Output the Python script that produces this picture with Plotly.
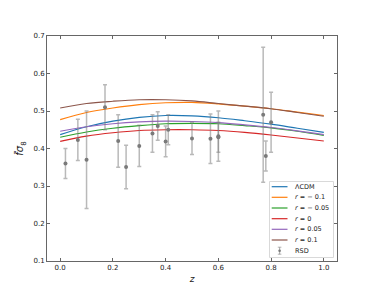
import plotly.graph_objects as go

# ---------------- data ----------------
z_model = [0.0, 0.1, 0.2, 0.3, 0.4, 0.5, 0.6, 0.7, 0.8, 0.9, 1.0]
lcdm    = [0.437, 0.458, 0.473, 0.483, 0.488, 0.487, 0.482, 0.474, 0.465, 0.454, 0.443]
r_m010  = [0.477, 0.496, 0.508, 0.517, 0.522, 0.523, 0.519, 0.513, 0.506, 0.497, 0.488]
r_m005  = [0.430, 0.444, 0.454, 0.461, 0.466, 0.467, 0.466, 0.461, 0.455, 0.446, 0.435]
r_000   = [0.419, 0.433, 0.442, 0.448, 0.450, 0.450, 0.448, 0.443, 0.436, 0.428, 0.420]
r_p005  = [0.446, 0.458, 0.466, 0.471, 0.473, 0.472, 0.469, 0.463, 0.456, 0.447, 0.437]
r_p010  = [0.508, 0.520, 0.526, 0.530, 0.530, 0.527, 0.520, 0.513, 0.506, 0.496, 0.486]

z_obs   = [0.02, 0.067, 0.10, 0.17, 0.22, 0.25, 0.30, 0.35, 0.37, 0.40, 0.41,
           0.50, 0.57, 0.60, 0.60, 0.77, 0.78, 0.80]
fs8_obs = [0.36, 0.423, 0.37, 0.51, 0.42, 0.351, 0.407, 0.44, 0.460, 0.419, 0.45,
           0.427, 0.426, 0.43, 0.433, 0.49, 0.38, 0.47]
err_obs = [0.04, 0.055, 0.13, 0.06, 0.07, 0.058, 0.055, 0.05, 0.038, 0.041, 0.04,
           0.043, 0.066, 0.04, 0.067, 0.18, 0.04, 0.08]

series_names = ["ΛCDM", "<i>r</i> = − 0.1", "<i>r</i> = − 0.05", "<i>r</i> = 0",
                "<i>r</i> = 0.05", "<i>r</i> = 0.1"]
series_vals = [lcdm, r_m010, r_m005, r_000, r_p005, r_p010]
colors = ["#1f77b4", "#ff7f0e", "#2ca02c", "#d62728", "#9467bd", "#8c564b"]

x_ticks = [0.0, 0.2, 0.4, 0.6, 0.8, 1.0]
y_ticks = [0.1, 0.2, 0.3, 0.4, 0.5, 0.6, 0.7]

# ---------------- layout geometry ----------------
OFF = 8                      # page body margin of the html page
W, H = 374 - OFF, 299 - OFF
ML, MR, MT, MB = 39, 37, 28, 38
PW, PH = W - ML - MR, H - MT - MB
FONT = "DejaVu Sans"


def px_x(x):
    return (x - OFF - ML) / PW


def px_y(y):
    return (H - MB - (y - OFF)) / PH


fig = go.Figure()
for name, vals, c in zip(series_names, series_vals, colors):
    fig.add_trace(go.Scatter(x=z_model, y=vals, mode="lines", name=name,
                             line=dict(color=c, width=1.2, shape="spline"),
                             showlegend=False))

fig.add_trace(go.Scatter(
    x=z_obs, y=fs8_obs, mode="markers", name="RSD",
    marker=dict(color="#7a7a7a", size=4),
    error_y=dict(type="data", array=err_obs, color="rgba(128,128,128,0.55)",
                 thickness=1.5, width=2),
    showlegend=False))

# ---------------- custom compact legend ----------------
shapes = []
annotations = []
box_l, box_r, box_t, box_b = 269.5, 333.5, 181.5, 257.5
shapes.append(dict(type="rect", xref="paper", yref="paper",
                   x0=px_x(box_l), x1=px_x(box_r), y0=px_y(box_b), y1=px_y(box_t),
                   line=dict(color="#d9d9d9", width=1), fillcolor="rgba(255,255,255,0.8)",
                   layer="above"))
row_y = [186.7, 197.3, 208.0, 218.7, 229.3, 240.0, 250.7]
TX = 293
for i, (name, c) in enumerate(zip(series_names, colors)):
    yy = px_y(row_y[i])
    shapes.append(dict(type="line", xref="paper", yref="paper",
                       x0=px_x(271.7), x1=px_x(287.5), y0=yy, y1=yy,
                       line=dict(color=c, width=1.2), layer="above"))
    annotations.append(dict(xref="paper", yref="paper", x=px_x(TX), y=yy,
                            text=name, showarrow=False, xanchor="left", yanchor="middle",
                            font=dict(family=FONT, size=6.5, color="#222")))
# RSD symbol
yy = px_y(row_y[6])
xc = px_x(279.6)
shapes.append(dict(type="line", xref="paper", yref="paper",
                   x0=xc, x1=xc, y0=px_y(row_y[6] + 3.5), y1=px_y(row_y[6] - 3.5),
                   line=dict(color="rgba(128,128,128,0.6)", width=1.2), layer="above"))
for d in (-3.5, 3.5):
    shapes.append(dict(type="line", xref="paper", yref="paper",
                       x0=px_x(277.8), x1=px_x(281.4),
                       y0=px_y(row_y[6] + d), y1=px_y(row_y[6] + d),
                       line=dict(color="rgba(128,128,128,0.6)", width=1), layer="above"))
shapes.append(dict(type="circle", xref="paper", yref="paper",
                   x0=px_x(278.3), x1=px_x(280.9), y0=px_y(row_y[6] + 1.3), y1=px_y(row_y[6] - 1.3),
                   fillcolor="#7a7a7a", line=dict(width=0), layer="above"))
annotations.append(dict(xref="paper", yref="paper", x=px_x(TX), y=yy,
                        text="RSD", showarrow=False, xanchor="left", yanchor="middle",
                        font=dict(family=FONT, size=6.5, color="#222")))

axis_common = dict(showline=True, linecolor="#666", linewidth=1, mirror="allticks",
                   ticks="inside", ticklen=3, tickwidth=1, tickcolor="#666",
                   showgrid=False, zeroline=False,
                   tickfont=dict(family=FONT, size=7, color="#222"))

fig.update_layout(
    width=W, height=H,
    margin=dict(l=ML, r=MR, t=MT, b=MB, pad=0),
    paper_bgcolor="white", plot_bgcolor="white",
    font=dict(family=FONT, size=7, color="#222"),
    xaxis=dict(range=[-0.05, 1.05], tickvals=x_ticks,
               ticktext=[f"{v:.1f}" for v in x_ticks],
               title=dict(text="<i>z</i>", font=dict(family=FONT, size=9), standoff=4),
               **axis_common),
    yaxis=dict(range=[0.1, 0.7], tickvals=y_ticks,
               ticktext=[f"{v:.1f}" for v in y_ticks],
               title=dict(text="<i>f\u0303σ</i><sub>8</sub>", font=dict(family=FONT, size=10),
                          standoff=7),
               **axis_common),
    shapes=shapes, annotations=annotations, showlegend=False,
)

fig.write_html("out.html")
